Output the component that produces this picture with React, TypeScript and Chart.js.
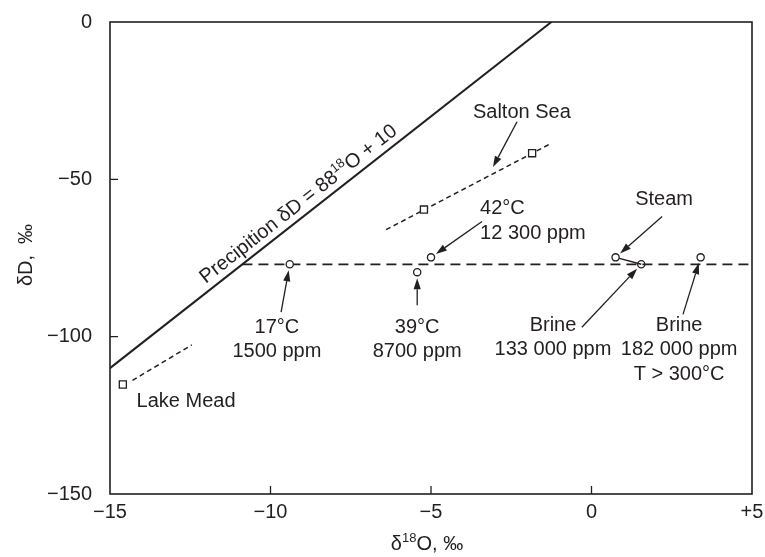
import React, { useEffect, useRef } from 'react';
import { Chart, registerables } from 'chart.js';

Chart.register(...registerables);

const FONT = '"Liberation Sans", Arial, Helvetica, sans-serif';
const INK = '#231f20';
const FONT_SIZE = 20;

// Axis ticks
const xTicks = [-15, -10, -5, 0, 5];
const xTickLabels = ['\u221215', '\u221210', '\u22125', '0', '+5'];
const yTicks = [-150, -100, -50, 0];
const yTickLabels = ['\u2212150', '\u2212100', '\u221250', '0'];

// Precipitation (meteoric water) line, δD = 8δ18O + 10
const meteoricO18 = [-15, -1.25];
const meteoricD = [-110, 0];

// Constant-δD line through the geothermal waters
const geoLineO18 = [-10.875, 5];
const geoLineD = [-77, -77];

// Geothermal samples: 17°C, 39°C, 42°C, steam, brine 133 000 ppm, brine 182 000 ppm
const sampleO18 = [-9.4, -5.43, -5.0, 0.75, 1.55, 3.4];
const sampleD = [-77, -79.5, -74.8, -74.8, -77, -74.8];
// the 133 000 ppm brine sits on the dashed line, which shows through it
const sampleFill = ['#ffffff', '#ffffff', '#ffffff', '#ffffff', 'rgba(255,255,255,0)', '#ffffff'];

// Steam / brine pair joined by a tie line
const steamBrineIdx = [3, 4];

// Salton Sea
const saltonO18 = [-5.22, -1.85];
const saltonD = [-59.6, -41.7];
const saltonTrendO18 = [-6.4, -1.3];
const saltonTrendD = [-66, -38.8];

// Lake Mead
const meadO18 = [-14.6];
const meadD = [-115.2];
const meadTrendO18 = [-14.3, -12.45];
const meadTrendD = [-113.9, -102.6];

type Note = {
  lines: string[];
  x: number;
  y: number;
  align: 'center' | 'left';
  tail?: [number, number];
  sample?: number;
  tip?: [number, number];
};

const notes: Note[] = [
  { lines: ['17\u00b0C', '1500 ppm'], x: -9.8, y: -97, align: 'center', tail: [-9.67, -92.2], sample: 0 },
  { lines: ['39\u00b0C', '8700 ppm'], x: -5.43, y: -97, align: 'center', tail: [-5.43, -90], sample: 1 },
  { lines: ['42\u00b0C', '12 300 ppm'], x: -3.47, y: -59.3, align: 'left', tail: [-3.41, -63.4], sample: 2 },
  { lines: ['Steam'], x: 2.26, y: -56.5, align: 'center', tail: [2.2, -61.8], sample: 3 },
  { lines: ['Brine', '133 000 ppm'], x: -1.2, y: -96.3, align: 'center', tail: [-0.3, -97], sample: 4 },
  { lines: ['Brine', '182 000 ppm', 'T > 300\u00b0C'], x: 2.73, y: -96.3, align: 'center', tail: [2.85, -92.9], sample: 5 },
  { lines: ['Salton Sea'], x: -2.17, y: -28.6, align: 'center', tail: [-2.32, -31.7], tip: [-3.07, -46.1] },
  { lines: ['Lake Mead'], x: -12.63, y: -120.5, align: 'center' },
];

const pts = (xs: number[], ys: number[]) => xs.map((x, i) => ({ x, y: ys[i] }));

type Part = { t: string; sup?: boolean };

function richWidth(ctx: CanvasRenderingContext2D, parts: Part[]) {
  let w = 0;
  for (const p of parts) {
    ctx.font = `${p.sup ? 13 : FONT_SIZE}px ${FONT}`;
    w += ctx.measureText(p.t).width;
  }
  return w;
}

// Draws text with superscript runs, horizontally centred on (cx, y), alphabetic baseline
function drawRich(ctx: CanvasRenderingContext2D, parts: Part[], cx: number, y: number) {
  const total = richWidth(ctx, parts);
  let x = cx - total / 2;
  ctx.textAlign = 'left';
  ctx.textBaseline = 'alphabetic';
  for (const p of parts) {
    ctx.font = `${p.sup ? 13 : FONT_SIZE}px ${FONT}`;
    ctx.fillText(p.t, x, p.sup ? y - 8 : y);
    x += ctx.measureText(p.t).width;
  }
}

function drawArrow(ctx: CanvasRenderingContext2D, x1: number, y1: number, x2: number, y2: number) {
  const ang = Math.atan2(y2 - y1, x2 - x1);
  const head = 11;
  const half = 3.6;
  const bx = x2 - head * Math.cos(ang);
  const by = y2 - head * Math.sin(ang);
  ctx.beginPath();
  ctx.moveTo(x1, y1);
  ctx.lineTo(bx, by);
  ctx.lineWidth = 1.3;
  ctx.stroke();
  ctx.beginPath();
  ctx.moveTo(x2, y2);
  ctx.lineTo(bx + half * Math.sin(ang), by - half * Math.cos(ang));
  ctx.lineTo(bx - half * Math.sin(ang), by + half * Math.cos(ang));
  ctx.closePath();
  ctx.fill();
}

const decorPlugin = {
  id: 'decor',
  afterDatasetsDraw(chart: any) {
    const { ctx, chartArea: a, scales } = chart;
    const xs = scales.x;
    const ys = scales.y;
    const px = (v: number) => xs.getPixelForValue(v);
    const py = (v: number) => ys.getPixelForValue(v);
    ctx.save();
    ctx.strokeStyle = INK;
    ctx.fillStyle = INK;

    // frame
    ctx.lineWidth = 1.6;
    ctx.strokeRect(a.left, a.top, a.right - a.left, a.bottom - a.top);

    // inward tick marks
    ctx.lineWidth = 1.3;
    ctx.beginPath();
    xTicks.slice(1, -1).forEach((v) => {
      ctx.moveTo(px(v), a.bottom);
      ctx.lineTo(px(v), a.bottom - 8);
    });
    yTicks.slice(1, -1).forEach((v) => {
      ctx.moveTo(a.left, py(v));
      ctx.lineTo(a.left + 8, py(v));
    });
    ctx.stroke();

    // annotations
    const lineH = 24.5;
    notes.forEach((n) => {
      ctx.font = `${FONT_SIZE}px ${FONT}`;
      ctx.textAlign = n.align;
      ctx.textBaseline = 'middle';
      const lx = px(n.x);
      const ly = py(n.y);
      n.lines.forEach((s, i) => ctx.fillText(s, lx, ly + i * lineH));
      if (n.tail) {
        const tx = px(n.tail[0]);
        const ty = py(n.tail[1]);
        let hx: number;
        let hy: number;
        if (n.sample !== undefined) {
          const cx = px(sampleO18[n.sample]);
          const cy = py(sampleD[n.sample]);
          const d = Math.hypot(tx - cx, ty - cy);
          const gap = 6;
          hx = cx + ((tx - cx) / d) * gap;
          hy = cy + ((ty - cy) / d) * gap;
        } else {
          hx = px(n.tip![0]);
          hy = py(n.tip![1]);
        }
        drawArrow(ctx, tx, ty, hx, hy);
      }
    });

    // label along the precipitation line
    const p1x = px(meteoricO18[0]);
    const p1y = py(meteoricD[0]);
    const p2x = px(meteoricO18[1]);
    const p2y = py(meteoricD[1]);
    const ang = Math.atan2(p2y - p1y, p2x - p1x);
    const t = 0.445;
    ctx.save();
    ctx.translate(p1x + (p2x - p1x) * t, p1y + (p2y - p1y) * t);
    ctx.rotate(ang);
    drawRich(ctx, [{ t: 'Precipition \u03b4D = 88' }, { t: '18', sup: true }, { t: 'O + 10' }], 0, -7);
    ctx.restore();

    // axis titles
    drawRich(ctx, [{ t: '\u03b4' }, { t: '18', sup: true }, { t: 'O, \u2030' }], 427, 550);
    ctx.save();
    ctx.translate(32, 255);
    ctx.rotate(-Math.PI / 2);
    drawRich(ctx, [{ t: '\u03b4D,  \u2030' }], 0, 0);
    ctx.restore();

    ctx.restore();
  },
};

export default function App() {
  const ref = useRef<HTMLCanvasElement | null>(null);

  useEffect(() => {
    document.body.style.margin = '0';
    const canvas = ref.current!;
    const hollow = {
      backgroundColor: '#ffffff',
      borderColor: INK,
      borderWidth: 1.3,
      showLine: false,
    };
    const chart = new Chart(canvas, {
      type: 'scatter',
      data: {
        datasets: [
          {
            ...hollow, data: pts(sampleO18, sampleD), backgroundColor: sampleFill,
            pointStyle: 'circle', pointRadius: 3.6, order: 0,
          },
          { ...hollow, data: pts(saltonO18, saltonD), pointStyle: 'rect', pointRadius: 5, order: 0 },
          { ...hollow, data: pts(meadO18, meadD), pointStyle: 'rect', pointRadius: 5, order: 0 },
          {
            data: steamBrineIdx.map((i) => ({ x: sampleO18[i], y: sampleD[i] })),
            showLine: true, borderColor: INK, borderWidth: 1.4, pointRadius: 0, order: 1,
          },
          {
            data: pts(meteoricO18, meteoricD),
            showLine: true, borderColor: INK, borderWidth: 2, pointRadius: 0, order: 2,
          },
          {
            data: pts(geoLineO18, geoLineD),
            showLine: true, borderColor: INK, borderWidth: 1.8, borderDash: [10, 6], pointRadius: 0, order: 2,
          },
          {
            data: pts(saltonTrendO18, saltonTrendD),
            showLine: true, borderColor: INK, borderWidth: 1.5, borderDash: [5, 3.5], pointRadius: 0, order: 2,
          },
          {
            data: pts(meadTrendO18, meadTrendD),
            showLine: true, borderColor: INK, borderWidth: 1.5, borderDash: [5, 3.5], pointRadius: 0, order: 2,
          },
        ],
      },
      options: {
        responsive: false,
        animation: false,
        events: [],
        layout: { padding: { left: 0, top: 16, right: 13, bottom: 0 } },
        plugins: { legend: { display: false }, tooltip: { enabled: false } },
        scales: {
          x: {
            type: 'linear',
            min: -15,
            max: 5,
            grid: { display: false },
            border: { display: false },
            afterFit: (s: any) => { s.height = 63; },
            afterBuildTicks: (s: any) => { s.ticks = xTicks.map((v) => ({ value: v })); },
            ticks: {
              autoSkip: false,
              maxRotation: 0,
              padding: -2,
              color: INK,
              font: { family: FONT, size: FONT_SIZE },
              callback: (v: any) => xTickLabels[xTicks.indexOf(Number(v))] ?? '',
            },
          },
          y: {
            type: 'linear',
            min: -150,
            max: 0,
            grid: { display: false },
            border: { display: false },
            afterFit: (s: any) => { s.width = 110; },
            afterBuildTicks: (s: any) => { s.ticks = yTicks.map((v) => ({ value: v })); },
            ticks: {
              autoSkip: false,
              padding: 10,
              color: INK,
              font: { family: FONT, size: FONT_SIZE },
              callback: (v: any) => yTickLabels[yTicks.indexOf(Number(v))] ?? '',
            },
          },
        },
      },
      plugins: [decorPlugin],
    } as any);
    return () => chart.destroy();
  }, []);

  return (
    <div style={{ width: 765, height: 557, background: '#ffffff' }}>
      <canvas ref={ref} width={765} height={557} />
    </div>
  );
}
